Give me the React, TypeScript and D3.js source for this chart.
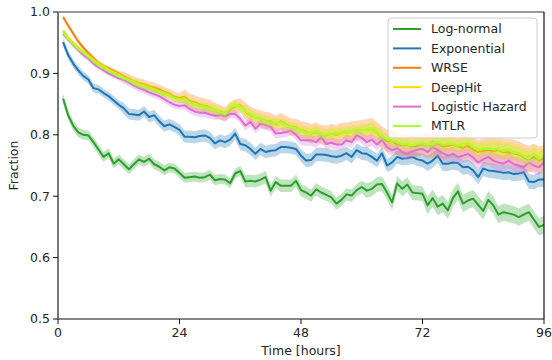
import React from 'react';
import * as d3 from 'd3';

const W = 552;
const H = 360;
const margin = { left: 58, right: 8, top: 12, bottom: 41 };

// hour of each sample (1..96)
const hours = d3.range(1, 97);
const xTicks = [0, 24, 48, 72, 96];
const yTicks = [0.5, 0.6, 0.7, 0.8, 0.9, 1.0];

const logNormal = [
  0.859, 0.832, 0.815, 0.804, 0.800, 0.799, 0.788, 0.776, 0.764, 0.770, 0.753, 0.760,
  0.752, 0.744, 0.752, 0.760, 0.756, 0.761, 0.752, 0.748, 0.742, 0.747, 0.745, 0.738,
  0.730, 0.731, 0.732, 0.730, 0.731, 0.735, 0.726, 0.728, 0.727, 0.721, 0.737, 0.741,
  0.724, 0.725, 0.724, 0.727, 0.731, 0.709, 0.723, 0.717, 0.717, 0.717, 0.725, 0.710,
  0.706, 0.701, 0.711, 0.706, 0.702, 0.698, 0.688, 0.694, 0.703, 0.701, 0.710, 0.715,
  0.709, 0.712, 0.719, 0.720, 0.706, 0.690, 0.721, 0.712, 0.719, 0.706, 0.705, 0.704,
  0.685, 0.697, 0.683, 0.688, 0.677, 0.697, 0.708, 0.688, 0.693, 0.696, 0.686, 0.676,
  0.694, 0.685, 0.670, 0.674, 0.672, 0.670, 0.666, 0.670, 0.674, 0.662, 0.650, 0.653,
];
const exponential = [
  0.951, 0.930, 0.916, 0.905, 0.896, 0.890, 0.876, 0.874, 0.868, 0.863, 0.856, 0.849,
  0.843, 0.834, 0.833, 0.832, 0.838, 0.829, 0.832, 0.822, 0.814, 0.817, 0.813, 0.808,
  0.797, 0.797, 0.796, 0.798, 0.799, 0.795, 0.786, 0.791, 0.788, 0.792, 0.802, 0.785,
  0.783, 0.777, 0.769, 0.777, 0.772, 0.774, 0.775, 0.780, 0.780, 0.779, 0.777, 0.766,
  0.758, 0.759, 0.768, 0.768, 0.767, 0.765, 0.764, 0.766, 0.770, 0.764, 0.775, 0.770,
  0.769, 0.764, 0.758, 0.770, 0.750, 0.755, 0.764, 0.761, 0.762, 0.764, 0.760, 0.758,
  0.753, 0.758, 0.766, 0.753, 0.753, 0.755, 0.754, 0.747, 0.748, 0.742, 0.731, 0.745,
  0.742, 0.741, 0.740, 0.738, 0.739, 0.736, 0.737, 0.739, 0.724, 0.723, 0.727, 0.727,
];
const wrse = [
  0.992, 0.978, 0.965, 0.952, 0.942, 0.933, 0.925, 0.917, 0.912, 0.908, 0.904, 0.900,
  0.895, 0.891, 0.887, 0.884, 0.882, 0.879, 0.877, 0.874, 0.870, 0.867, 0.862, 0.860,
  0.862, 0.855, 0.853, 0.849, 0.847, 0.845, 0.840, 0.837, 0.833, 0.842, 0.846, 0.848,
  0.838, 0.832, 0.828, 0.826, 0.823, 0.822, 0.817, 0.822, 0.817, 0.813, 0.812, 0.808,
  0.805, 0.802, 0.804, 0.800, 0.799, 0.802, 0.800, 0.804, 0.804, 0.806, 0.807, 0.808,
  0.808, 0.810, 0.803, 0.796, 0.790, 0.789, 0.785, 0.783, 0.783, 0.781, 0.782, 0.785,
  0.784, 0.782, 0.786, 0.781, 0.782, 0.784, 0.781, 0.779, 0.782, 0.776, 0.772, 0.774,
  0.775, 0.773, 0.775, 0.771, 0.772, 0.770, 0.768, 0.763, 0.760, 0.764, 0.759, 0.761,
];
const deepHit = [
  0.970, 0.958, 0.950, 0.942, 0.935, 0.929, 0.922, 0.916, 0.911, 0.906, 0.902, 0.898,
  0.893, 0.890, 0.886, 0.883, 0.880, 0.877, 0.874, 0.871, 0.868, 0.865, 0.860, 0.858,
  0.859, 0.853, 0.851, 0.848, 0.846, 0.844, 0.841, 0.838, 0.835, 0.843, 0.847, 0.846,
  0.839, 0.833, 0.829, 0.825, 0.823, 0.821, 0.818, 0.821, 0.816, 0.812, 0.811, 0.808,
  0.804, 0.802, 0.805, 0.801, 0.799, 0.803, 0.801, 0.805, 0.803, 0.806, 0.805, 0.808,
  0.807, 0.810, 0.805, 0.797, 0.792, 0.791, 0.787, 0.785, 0.784, 0.782, 0.784, 0.786,
  0.785, 0.783, 0.788, 0.783, 0.785, 0.786, 0.782, 0.784, 0.786, 0.780, 0.775, 0.777,
  0.778, 0.776, 0.777, 0.773, 0.775, 0.772, 0.770, 0.766, 0.762, 0.769, 0.762, 0.766,
];
const logisticHazard = [
  0.965, 0.955, 0.946, 0.938, 0.930, 0.924, 0.916, 0.910, 0.905, 0.900, 0.896, 0.892,
  0.889, 0.885, 0.880, 0.876, 0.873, 0.869, 0.866, 0.863, 0.858, 0.853, 0.849, 0.847,
  0.848, 0.842, 0.838, 0.836, 0.836, 0.833, 0.831, 0.832, 0.830, 0.834, 0.834, 0.826,
  0.815, 0.821, 0.810, 0.818, 0.816, 0.813, 0.802, 0.803, 0.804, 0.807, 0.800, 0.791,
  0.791, 0.791, 0.788, 0.796, 0.785, 0.787, 0.784, 0.784, 0.791, 0.788, 0.799, 0.795,
  0.788, 0.792, 0.784, 0.792, 0.780, 0.775, 0.778, 0.772, 0.769, 0.773, 0.776, 0.777,
  0.772, 0.780, 0.775, 0.770, 0.766, 0.769, 0.764, 0.766, 0.769, 0.763, 0.755, 0.760,
  0.764, 0.758, 0.755, 0.753, 0.758, 0.752, 0.750, 0.747, 0.755, 0.750, 0.747, 0.755,
];
const mtlr = [
  0.968, 0.956, 0.948, 0.940, 0.934, 0.927, 0.920, 0.914, 0.909, 0.905, 0.900, 0.896,
  0.892, 0.889, 0.884, 0.881, 0.879, 0.876, 0.873, 0.870, 0.866, 0.864, 0.859, 0.857,
  0.858, 0.852, 0.850, 0.847, 0.845, 0.843, 0.840, 0.837, 0.834, 0.844, 0.851, 0.845,
  0.838, 0.834, 0.828, 0.826, 0.822, 0.820, 0.819, 0.820, 0.815, 0.813, 0.810, 0.807,
  0.803, 0.804, 0.806, 0.800, 0.801, 0.802, 0.803, 0.804, 0.806, 0.805, 0.807, 0.807,
  0.809, 0.811, 0.803, 0.798, 0.793, 0.790, 0.788, 0.784, 0.786, 0.783, 0.785, 0.786,
  0.784, 0.785, 0.789, 0.784, 0.786, 0.785, 0.783, 0.785, 0.786, 0.781, 0.776, 0.778,
  0.777, 0.777, 0.778, 0.774, 0.776, 0.771, 0.770, 0.765, 0.761, 0.769, 0.761, 0.766,
];

// half-width of the shaded band, one value per 12-hour block
const bandLogNormal = [0.008, 0.008, 0.008, 0.010, 0.010, 0.012, 0.014, 0.014];
const bandExponential = [0.007, 0.009, 0.010, 0.010, 0.011, 0.011, 0.012, 0.012];
const bandWrse = [0.004, 0.008, 0.012, 0.014, 0.016, 0.018, 0.020, 0.022];
const bandDeepHit = [0.004, 0.005, 0.007, 0.009, 0.010, 0.011, 0.012, 0.014];
const bandLogisticHazard = [0.004, 0.006, 0.007, 0.008, 0.009, 0.010, 0.012, 0.013];
const bandMtlr = [0.004, 0.005, 0.006, 0.007, 0.007, 0.008, 0.009, 0.010];

const seriesNames = ['Log-normal', 'Exponential', 'WRSE', 'DeepHit', 'Logistic Hazard', 'MTLR'];
const seriesColors = ['#2ca02c', '#1f77b4', '#ff7f0e', '#ffd700', '#da70d6', '#adff2f'];
const seriesValues = [logNormal, exponential, wrse, deepHit, logisticHazard, mtlr];
const seriesBands = [bandLogNormal, bandExponential, bandWrse, bandDeepHit, bandLogisticHazard, bandMtlr];

const FONT = 'DejaVu Sans, sans-serif';
const TEXT = '#262626';

export default function App() {
  const x = d3.scaleLinear().domain([0, 96]).range([margin.left, W - margin.right]);
  const y = d3.scaleLinear().domain([0.5, 1.0]).range([H - margin.bottom, margin.top]);

  const line = d3.line<[number, number]>()
    .x(d => x(d[0]))
    .y(d => y(d[1]));
  const area = d3.area<[number, number, number]>()
    .x(d => x(d[0]))
    .y0(d => y(d[1] - d[2]))
    .y1(d => y(d[1] + d[2]));

  const blockOf = (h: number) => Math.min(7, Math.floor((h - 1) / 12));

  const legendX = 388;
  const legendY = 18;
  const rowH = 19.4;

  return (
    <svg width={W} height={H} style={{ position: 'absolute', left: 0, top: 0, background: '#fff' }}
      fontFamily={FONT}>
      <defs>
        <clipPath id="plot">
          <rect x={margin.left} y={margin.top} width={W - margin.left - margin.right}
            height={H - margin.top - margin.bottom} />
        </clipPath>
      </defs>

      <g clipPath="url(#plot)">
        {seriesValues.map((vals, i) => {
          const pts = hours.map((h, j) => [h, vals[j]] as [number, number]);
          const band = hours.map((h, j) => [h, vals[j], seriesBands[i][blockOf(h)]] as [number, number, number]);
          return (
            <g key={seriesNames[i]}>
              <path d={line(pts) || ''} fill="none" stroke={seriesColors[i]} strokeWidth={2}
                strokeLinejoin="round" />
              <path d={area(band) || ''} fill={seriesColors[i]} fillOpacity={0.3} stroke="none" />
            </g>
          );
        })}
      </g>

      {/* spines */}
      <line x1={margin.left} x2={W - margin.right} y1={margin.top} y2={margin.top} stroke="#333" strokeWidth={1.2} />
      <line x1={W - margin.right} x2={W - margin.right} y1={margin.top} y2={H - margin.bottom} stroke="#111" strokeWidth={1.2} />
      <line x1={margin.left} x2={W - margin.right} y1={H - margin.bottom} y2={H - margin.bottom} stroke="#111" strokeWidth={1.2} />
      <line x1={margin.left} x2={margin.left} y1={margin.top} y2={H - margin.bottom} stroke="#777" strokeWidth={2} />

      {/* x axis */}
      {xTicks.map(t => (
        <g key={t} transform={`translate(${x(t)},${H - margin.bottom})`}>
          <line y2={5} stroke="#111" strokeWidth={1} />
          <text y={18} textAnchor="middle" fontSize={12.5} fill={TEXT}>{t}</text>
        </g>
      ))}
      <text x={(margin.left + W - margin.right) / 2} y={H - 5} textAnchor="middle" fontSize={12.5} fill={TEXT}>
        Time [hours]
      </text>

      {/* y axis */}
      {yTicks.map(t => (
        <g key={t} transform={`translate(${margin.left},${y(t)})`}>
          <line x2={-5} stroke="#111" strokeWidth={1} />
          <text x={-8} dy="0.35em" textAnchor="end" fontSize={12.5} fill={TEXT}>{t.toFixed(1)}</text>
        </g>
      ))}
      <text transform={`translate(18,${(margin.top + H - margin.bottom) / 2}) rotate(-90)`}
        textAnchor="middle" fontSize={12.5} fill={TEXT}>Fraction</text>

      {/* legend */}
      <rect x={legendX} y={legendY} width={149} height={120} rx={3} fill="#fff" fillOpacity={0.8}
        stroke="#ccc" strokeWidth={1} />
      {seriesNames.map((name, i) => {
        const cy = legendY + 11 + i * rowH;
        return (
          <g key={name}>
            <line x1={legendX + 5} x2={legendX + 33} y1={cy} y2={cy} stroke={seriesColors[i]} strokeWidth={2} />
            <text x={legendX + 43} y={cy} dy="0.35em" fontSize={12.5} fill={TEXT}>{name}</text>
          </g>
        );
      })}
    </svg>
  );
}
